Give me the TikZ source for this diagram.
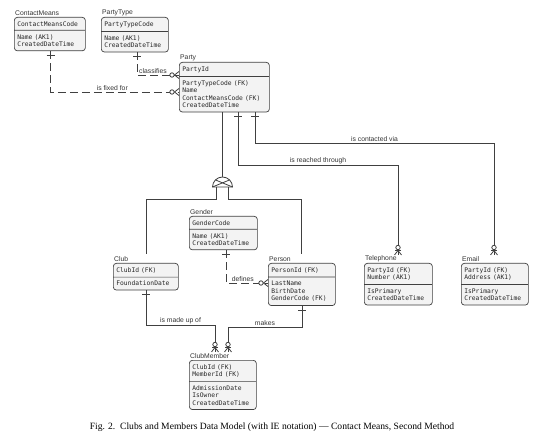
\documentclass[tikz,border=0pt]{standalone}
\usepackage{fontspec}
\setmainfont{Liberation Sans}
\setmonofont{DejaVu Sans Mono}
\newfontfamily\capfont{Liberation Serif}
\usetikzlibrary{shapes.multipart}
\definecolor{linegray}{HTML}{404040}
\definecolor{boxgray}{HTML}{F3F3F3}

\begin{document}
\begin{tikzpicture}[
  x=1pt, y=1pt,
  entity/.style={draw=linegray, fill=boxgray, line width=0.7pt, rounded corners=3pt,
    rectangle split, rectangle split parts=2, text width=#1, align=left,
    inner xsep=3pt, inner ysep=3.7pt, anchor=north west, text=black!85,
    font=\ttfamily\fontsize{6.3}{7.5}\selectfont},
  ename/.style={font=\fontsize{6.8}{8}\selectfont, inner sep=1pt, text=black!80, anchor=south west},
  rel/.style={draw=linegray, line width=0.8pt},
  nonid/.style={rel, dash pattern=on 8pt off 4pt},
  lbl/.style={font=\fontsize{6.8}{8}\selectfont, inner sep=1.2pt, text=black!80, above},
  one/.pic={\draw[rel] (4,-4) -- (4,4);},
  zmany/.pic={\draw[rel] (0,3.5) -- (4.5,0) -- (0,-3.5);
    \draw[rel, fill=white] (7,0) circle[radius=2.2];},
  ozmany/.pic={\draw[rel] (0,3.5) -- (4.5,0) -- (0,-3.5);
    \draw[rel] (4.5,-3) -- (4.5,3);
    \draw[rel, fill=white] (7.5,0) circle[radius=2.2];},
]
  \useasboundingbox (0,0) rectangle (540,-443);

  % entities
  \node[entity=65pt, label={[ename]north west:ContactMeans}] (contact) at (14,-17)
    {ContactMeansCode\nodepart{two}Name (AK1)\\CreatedDateTime};
  \node[entity=61pt, label={[ename]north west:PartyType}] (ptype) at (101,-17)
    {PartyTypeCode\nodepart{two}Name (AK1)\\CreatedDateTime};
  \node[entity=84pt, label={[ename]north west:Party}] (party) at (179,-62)
    {PartyId\nodepart{two}PartyTypeCode (FK)\\Name\\ContactMeansCode (FK)\\CreatedDateTime};
  \node[entity=62pt, label={[ename]north west:Gender}] (gender) at (189,-216)
    {GenderCode\nodepart{two}Name (AK1)\\CreatedDateTime};
  \node[entity=59pt, label={[ename]north west:Club}] (club) at (113,-263)
    {ClubId (FK)\nodepart{two}FoundationDate};
  \node[entity=61pt, label={[ename]north west:Person}] (person) at (268,-263)
    {PersonId (FK)\nodepart{two}LastName\\BirthDate\\GenderCode (FK)};
  \node[entity=62pt, label={[ename]north west:Telephone}] (tel) at (364,-263)
    {PartyId (FK)\\Number (AK1)\nodepart{two}IsPrimary\\CreatedDateTime};
  \node[entity=61pt, label={[ename]north west:Email}] (email) at (461,-263)
    {PartyId (FK)\\Address (AK1)\nodepart{two}IsPrimary\\CreatedDateTime};
  \node[entity=61pt, label={[ename]north west:ClubMember}] (member) at (189,-360)
    {ClubId (FK)\\MemberId (FK)\nodepart{two}AdmissionDate\\IsOwner\\CreatedDateTime};

  % non-identifying relationships
  \draw[nonid] ([xshift=36.7pt]contact.south west) |- node[lbl, pos=0.74] {is fixed for} ([yshift=-30pt]party.north west);
  \pic[rotate=-90] at ([xshift=36.7pt]contact.south west) {one};
  \pic[rotate=180] at ([yshift=-30pt]party.north west) {zmany};

  \draw[nonid] ([xshift=36pt]ptype.south west) |- node[lbl, pos=0.69] {classifies} ([yshift=-13pt]party.north west);
  \pic[rotate=-90] at ([xshift=36pt]ptype.south west) {one};
  \pic[rotate=180] at ([yshift=-13pt]party.north west) {zmany};

  \draw[nonid] ([xshift=37pt]gender.south west) |- node[lbl, pos=0.7] {defines} ([yshift=-20pt]person.north west);
  \pic[rotate=-90] at ([xshift=37pt]gender.south west) {one};
  \pic[rotate=180] at ([yshift=-20pt]person.north west) {zmany};

  % identifying relationships
  \draw[rel] ([xshift=59pt]party.south west) -- ++(0,-53) -| node[lbl, pos=0.25] {is reached through} ([xshift=34pt,yshift=8pt]tel.north west);
  \pic[rotate=-90] at ([xshift=59pt]party.south west) {one};
  \pic[rotate=90] at ([xshift=34pt,yshift=8pt]tel.north west) {ozmany};

  \draw[rel] ([xshift=76pt]party.south west) -- ++(0,-31) -| node[lbl, pos=0.25] {is contacted via} ([xshift=33pt,yshift=8pt]email.north west);
  \pic[rotate=-90] at ([xshift=76pt]party.south west) {one};
  \pic[rotate=90] at ([xshift=33pt,yshift=8pt]email.north west) {ozmany};

  \draw[rel] ([xshift=33pt]club.south west) -- ++(0,-35) -| node[lbl, pos=0.25] {is made up of} ([xshift=26pt,yshift=8pt]member.north west);
  \pic[rotate=-90] at ([xshift=33pt]club.south west) {one};
  \pic[rotate=90] at ([xshift=26pt,yshift=8pt]member.north west) {ozmany};

  \draw[rel] ([xshift=34pt]person.south west) -- ++(0,-21) -| node[lbl, pos=0.25] {makes} ([xshift=39pt,yshift=8pt]member.north west);
  \pic[rotate=-90] at ([xshift=34pt]person.south west) {one};
  \pic[rotate=90] at ([xshift=39pt,yshift=8pt]member.north west) {ozmany};

  % subtype symbol
  \coordinate (sub) at (222.5,-187);
  \draw[rel] ([xshift=43.5pt]party.south west) -- ([yshift=10pt]sub);
  \draw[rel] ([xshift=-6pt]sub) -- ++(0,-12) -| ([xshift=33pt,yshift=9pt]club.north west);
  \draw[rel] ([xshift=6pt]sub) -- ++(0,-12) -| ([xshift=33pt,yshift=9pt]person.north west);
  \draw[rel, fill=white] ([xshift=-10pt]sub) arc[start angle=180, end angle=0, radius=10pt] -- cycle;
  \draw[rel] ([xshift=-10pt]sub) -- ([shift={(45:10pt)}]sub);
  \draw[rel] ([xshift=10pt]sub) -- ([shift={(135:10pt)}]sub);

  \node[font=\capfont\fontsize{9.6}{11}\selectfont] (caption) at (272,-427)
    {Fig. 2.\enspace Clubs and Members Data Model (with IE notation) — Contact Means, Second Method};
\end{tikzpicture}
\end{document}
